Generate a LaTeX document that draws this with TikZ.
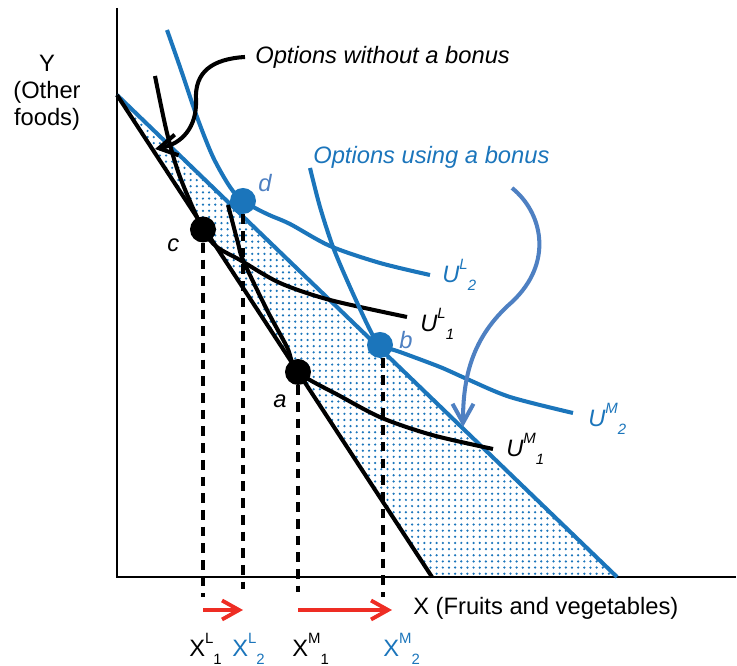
\documentclass[tikz,border=0pt]{standalone}
\usepackage{fontspec}
\setmainfont{Liberation Sans}
\usepackage{tikz}
\usetikzlibrary{arrows.meta,patterns.meta}
\definecolor{bon}{HTML}{1B75BB}
\definecolor{bonarr}{HTML}{4E80C2}
\definecolor{gain}{HTML}{EE2D24}

\newcommand{\ulab}[3]{#1\raisebox{0.55em}{\fontsize{8.5}{9}\selectfont #2}\raisebox{-0.3em}{\fontsize{8.5}{9}\selectfont #3}}

\begin{document}
\begin{tikzpicture}[
    every node/.style={font=\fontsize{13.5}{15.3}\selectfont},
    curve/.style={line width=2.3pt},
    guide/.style={line width=2.5pt,dash pattern=on 5.5pt off 4pt},
    spot/.style={circle,inner sep=0pt,minimum size=0.52cm},
    tag/.style={inner sep=0pt,anchor=base west,font=\fontsize{13.5}{15.3}\selectfont\itshape},
    axlab/.style={inner sep=0pt,anchor=base west},
    shiftarrow/.style={gain,line width=2.2pt,-{Straight Barb[length=3.4mm,width=3.8mm]}},
  ]
\useasboundingbox (-2.34,-1.78) rectangle (12.4,11.54);

% axes and budget lines
\coordinate (O) at (0,0);
\coordinate (ytop) at (0,11.38);
\coordinate (xend) at (12.38,0);
\coordinate (T) at (0,9.64);
\coordinate (K) at (6.3,0);
\coordinate (B) at (10,0);
\coordinate (base) at (0,-0.4);

\fill[pattern={Dots[distance=3.5pt,radius=0.7pt]},pattern color=bon] (T) -- (B) -- (K) -- cycle;
\draw[line width=1pt] (ytop) -- (O) -- (xend);
\draw[curve,bon] (T) -- (B);
\draw[curve] (T) -- (K);

% indifference curves
\draw[curve] plot[smooth] coordinates {(0.76,10.02) (1.0,8.88) (1.26,8.0) (1.72,6.95) (2.0,6.6) (2.46,6.34) (3.26,5.88) (4.26,5.54) (5.8,5.2)};
\draw[curve,bon] plot[smooth] coordinates {(1.0,10.94) (1.26,10.2) (1.6,9.2) (1.92,8.4) (2.26,7.8) (2.52,7.52) (3.0,7.26) (3.46,7.06) (4.26,6.62) (5.26,6.28) (6.26,6.04)};
\draw[curve] plot[smooth] coordinates {(2.22,7.44) (2.42,6.68) (2.52,6.34) (3.0,5.34) (3.4,4.6) (3.62,4.1) (4.46,3.62) (5.3,3.18) (6.3,2.84) (7.52,2.56)};
\draw[curve,bon] plot[smooth] coordinates {(3.86,8.18) (4.06,7.4) (4.32,6.6) (4.66,5.8) (5.06,4.94) (5.26,4.64) (5.66,4.5) (6.46,4.2) (7.0,3.96) (7.86,3.6) (9.12,3.28)};

% chosen points
\node[spot,fill=black] (c) at (1.72,6.95) {};
\node[spot,fill=bon] (d) at (2.52,7.52) {};
\node[spot,fill=black] (a) at (3.62,4.1) {};
\node[spot,fill=bon] (b) at (5.26,4.64) {};

\draw[guide] (c.south) -- (c |- base);
\draw[guide] (d.south) -- (d |- 0,-0.24);
\draw[guide] (a.south) -- (a |- 0,-0.3);
\draw[guide] ([xshift=0.06cm]b.south) -- ([xshift=0.06cm]b |- base);

\node[tag] at (1.0,6.5) {c};
\node[tag,text=bonarr] at (2.82,7.7) {d};
\node[tag] at (3.12,3.38) {a};
\node[tag,text=bonarr] at (5.64,4.56) {b};

\node[tag,text=bon] (ul2) at (6.5,5.88) {\ulab{U}{L}{2}};
\node[tag] (ul1) at (6.06,4.9) {\ulab{U}{L}{1}};
\node[tag,text=bon] (um2) at (9.42,3.0) {\ulab{U}{M}{2}};
\node[tag] (um1) at (7.78,2.4) {\ulab{U}{M}{1}};

% callouts
\node[tag,anchor=west] (nobonus) at (2.76,10.4) {Options without a bonus};
\coordinate (nbtip) at (0.76,8.56);
\draw[curve,-{Straight Barb[length=3.6mm,width=4.2mm]}] ([xshift=-0.2cm]nobonus.west) .. controls (1.9,10.36) and (1.55,10.1) .. (1.58,9.54) .. controls (1.6,9.0) and (1.3,8.66) .. (nbtip);

\node[tag,anchor=west,text=bon] (bonus) at (3.92,8.4) {Options using a bonus};
\coordinate (bstart) at (7.9,7.78);
\coordinate (btip) at (6.92,3.0);
\draw[curve,bonarr,-{Straight Barb[length=3.8mm,width=4.2mm]}] (bstart) .. controls (8.5,7.3) and (8.75,6.3) .. (7.9,5.5) .. controls (7.1,4.8) and (6.92,4.0) .. (btip);

% axis labels
\node[align=center] (ylab) at (-1.4,9.68) {Y\\(Other\\foods)};
\node[anchor=west,inner sep=0pt] (xlab) at (5.92,-0.62) {X (Fruits and vegetables)};

\coordinate (l1) at (1.72,-0.66);
\coordinate (l2) at (2.52,-0.66);
\coordinate (m1) at (3.62,-0.66);
\coordinate (m2) at (5.5,-0.66);
\draw[shiftarrow] (l1) -- (l2);
\draw[shiftarrow] (m1) -- (m2);

\node[axlab] (xl1) at (1.44,-1.6) {\ulab{X}{L}{1}};
\node[axlab,text=bon] (xl2) at (2.30,-1.6) {\ulab{X}{L}{2}};
\node[axlab] (xm1) at (3.5,-1.6) {\ulab{X}{M}{1}};
\node[axlab,text=bon] (xm2) at (5.32,-1.6) {\ulab{X}{M}{2}};
\end{tikzpicture}
\end{document}
